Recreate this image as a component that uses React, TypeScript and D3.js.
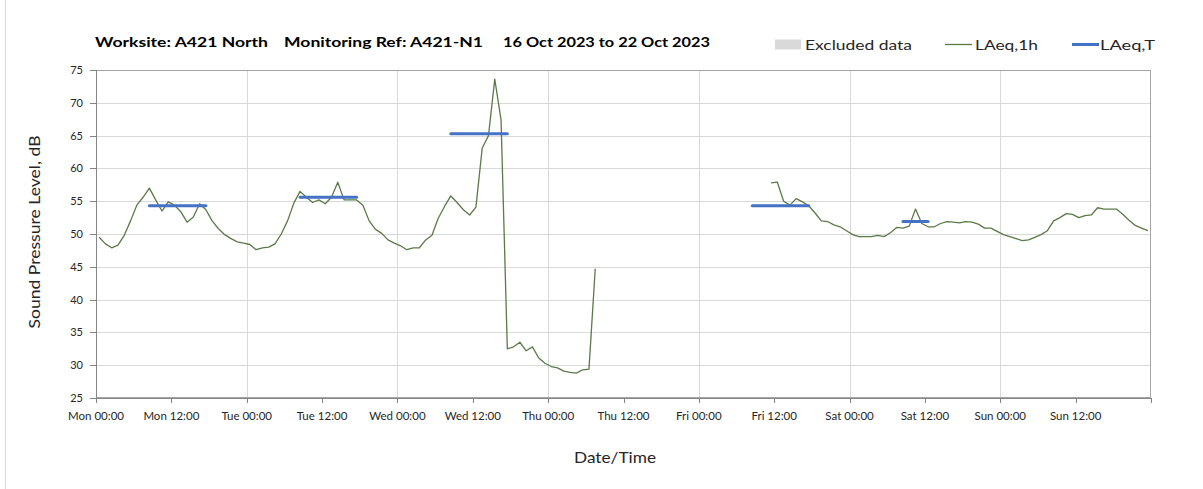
import React from "react";
import * as d3 from "d3";

// hourly LAeq,1h readings, time in hours from Mon 00:00
const seg1Start = 0.5;
const seg1Values = [
  49.5, 48.5, 47.9, 48.3, 49.8, 52.0, 54.4, 55.6, 57.0, 55.2, 53.5, 54.9,
  54.4, 53.4, 51.8, 52.6, 54.6, 53.7, 52.0, 50.8, 49.9, 49.3, 48.8, 48.6,
  48.4, 47.6, 47.9, 48.0, 48.5, 50.0, 52.0, 54.7, 56.5, 55.6, 54.8, 55.2,
  54.6, 55.6, 57.9, 55.2, 55.2, 55.2, 54.4, 52.0, 50.7, 50.1, 49.1, 48.6,
  48.2, 47.6, 47.9, 47.9, 49.1, 49.8, 52.4, 54.2, 55.8, 54.8, 53.7, 52.9,
  54.1, 63.1, 65.0, 73.6, 67.4, 32.5, 32.8, 33.5, 32.2, 32.8, 31.1, 30.3,
  29.8, 29.6, 29.1, 28.9, 28.8, 29.3, 29.4, 44.7,
];

const seg2Start = 107.5;
const seg2Values = [
  57.8, 57.9, 55.0, 54.4, 55.4, 54.9, 54.3, 53.2, 52.0, 51.9, 51.4, 51.1,
  50.5, 49.9, 49.6, 49.6, 49.6, 49.8, 49.6, 50.2, 51.0, 50.9, 51.2, 53.8,
  51.6, 51.1, 51.1, 51.6, 51.9, 51.8, 51.7, 51.9, 51.8, 51.5, 50.9, 50.9,
  50.4, 49.9, 49.6, 49.3, 49.0, 49.1, 49.5, 49.9, 50.5, 52.0, 52.5, 53.1,
  53.0, 52.5, 52.8, 52.9, 54.0, 53.8, 53.8, 53.8, 53.0, 52.1, 51.3, 50.9,
  50.5,
];

// LAeq,T periods
const periodStart = [8.5, 32.5, 56.5, 104.5, 128.5];
const periodEnd = [17.5, 41.5, 65.5, 113.5, 132.5];
const periodValues = [54.3, 55.6, 65.3, 54.3, 51.9];

const tickLabels = [
  "Mon 00:00", "Mon 12:00", "Tue 00:00", "Tue 12:00", "Wed 00:00",
  "Wed 12:00", "Thu 00:00", "Thu 12:00", "Fri 00:00", "Fri 12:00",
  "Sat 00:00", "Sat 12:00", "Sun 00:00", "Sun 12:00",
];
const yTicks = [25, 30, 35, 40, 45, 50, 55, 60, 65, 70, 75];

interface Pt {
  t: number;
  v: number;
}

const W = 1203;
const H = 489;
const FONT = "Lato, 'Open Sans', sans-serif";
const GREEN = "#5b7a47";
const BLUE = "#4472c4";

export default function App() {
  const x = d3.scaleLinear().domain([0, 168]).range([96, 1151]);
  const y = d3.scaleLinear().domain([25, 75]).range([398, 70]);

  const seg1: Pt[] = seg1Values.map((v, i) => ({ t: seg1Start + i, v }));
  const seg2: Pt[] = seg2Values.map((v, i) => ({ t: seg2Start + i, v }));

  const line = d3
    .line<Pt>()
    .x((d) => x(d.t))
    .y((d) => y(d.v));

  const hourTicks = d3.range(0, 169, 12);

  return (
    <div style={{ position: "absolute", left: 0, top: 0 }}>
      <svg width={W} height={H} style={{ display: "block" }} fontFamily={FONT}>
        <rect x={0} y={0} width={W} height={H} fill="#fff" />
        <line x1={5.5} x2={5.5} y1={0} y2={H} stroke="#d9d9d9" />

        {/* title */}
        <g fontWeight="bold" fontSize={14} fill="#000">
          <text x={95} y={47} textLength={173} lengthAdjust="spacingAndGlyphs">
            Worksite: A421 North
          </text>
          <text x={284} y={47} textLength={199} lengthAdjust="spacingAndGlyphs">
            Monitoring Ref: A421-N1
          </text>
          <text x={503} y={47} textLength={207} lengthAdjust="spacingAndGlyphs">
            16 Oct 2023 to 22 Oct 2023
          </text>
        </g>

        {/* legend */}
        <g fontSize={14} fill="#262626">
          <rect x={775} y={39.5} width={26} height={10} fill="#d9d9d9" />
          <text x={805} y={50} textLength={107} lengthAdjust="spacingAndGlyphs">
            Excluded data
          </text>
          <line x1={945} x2={972} y1={44.5} y2={44.5} stroke={GREEN} strokeWidth={1.3} />
          <text x={975} y={50} textLength={63} lengthAdjust="spacingAndGlyphs">
            LAeq,1h
          </text>
          <line x1={1072} x2={1099} y1={44.5} y2={44.5} stroke={BLUE} strokeWidth={3} />
          <text x={1100} y={50} textLength={55} lengthAdjust="spacingAndGlyphs">
            LAeq,T
          </text>
        </g>

        {/* grid */}
        <g stroke="#d9d9d9" strokeWidth={1}>
          {yTicks.slice(1, -1).map((v) => (
            <line key={v} x1={96} x2={1151} y1={Math.round(y(v)) + 0.5} y2={Math.round(y(v)) + 0.5} />
          ))}
          {hourTicks
            .filter((h) => h % 24 === 0 && h > 0 && h < 168)
            .map((h) => (
              <line key={h} x1={Math.round(x(h)) + 0.5} x2={Math.round(x(h)) + 0.5} y1={70} y2={398} />
            ))}
        </g>

        {/* plot border and axes */}
        <rect x={96.5} y={70.5} width={1054} height={327} fill="none" stroke="#a6a6a6" />
        <g stroke="#868686">
          <line x1={96.5} x2={96.5} y1={70} y2={398} />
          <line x1={96} x2={1151} y1={398.5} y2={398.5} />
          {yTicks.map((v) => (
            <line key={v} x1={90} x2={96} y1={Math.round(y(v)) + 0.5} y2={Math.round(y(v)) + 0.5} />
          ))}
          {hourTicks.map((h) => (
            <line key={h} x1={Math.round(x(h)) + 0.5} x2={Math.round(x(h)) + 0.5} y1={398} y2={403} />
          ))}
        </g>

        {/* y tick labels */}
        <g fontSize={11} fill="#262626" textAnchor="end">
          {yTicks.map((v) => (
            <text key={v} x={83} y={y(v) + 4}>
              {v}
            </text>
          ))}
        </g>

        {/* x tick labels */}
        <g fontSize={11.5} fill="#262626" textAnchor="middle">
          {tickLabels.map((lab, i) => (
            <text key={lab} x={x(i * 12)} y={420}>
              {lab}
            </text>
          ))}
        </g>

        {/* axis titles */}
        <text
          transform={`translate(40, 232) rotate(-90)`}
          textAnchor="middle"
          fontSize={15}
          fill="#262626"
          textLength={193}
          lengthAdjust="spacingAndGlyphs"
        >
          Sound Pressure Level, dB
        </text>
        <text
          x={615}
          y={463}
          textAnchor="middle"
          fontSize={15}
          fill="#262626"
          textLength={82}
          lengthAdjust="spacingAndGlyphs"
        >
          Date/Time
        </text>

        {/* LAeq,1h */}
        <g fill="none" stroke={GREEN} strokeWidth={1.3} strokeLinejoin="round">
          <path d={line(seg1) ?? ""} />
          <path d={line(seg2) ?? ""} />
        </g>

        {/* LAeq,T */}
        <g stroke={BLUE} strokeWidth={3} strokeLinecap="round">
          {periodValues.map((v, i) => (
            <line key={i} x1={x(periodStart[i])} x2={x(periodEnd[i])} y1={y(v)} y2={y(v)} />
          ))}
        </g>
      </svg>
    </div>
  );
}
